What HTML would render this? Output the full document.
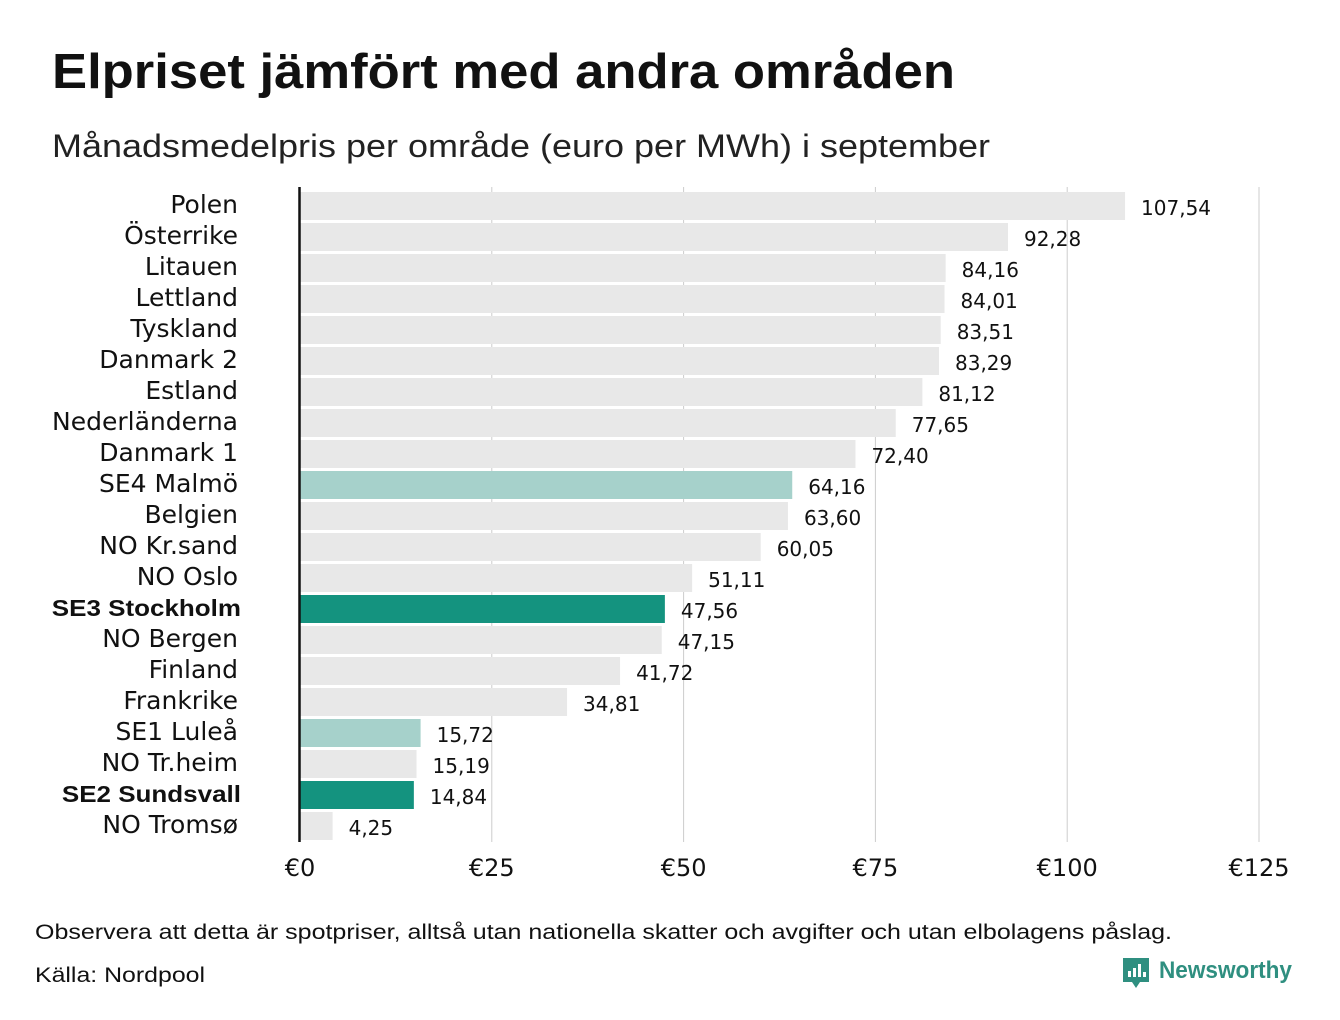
<!DOCTYPE html>
<html><head><meta charset="utf-8"><style>
body{margin:0;background:#fff;font-family:"DejaVu Sans","Liberation Sans",sans-serif;}
#wrap{position:relative;width:1340px;height:1020px;overflow:hidden}
</style></head><body>
<div id="wrap">
<svg id="chart" width="1340" height="1020">
<text x="52" y="88" font-size="49" font-weight="bold" fill="#111" textLength="903" lengthAdjust="spacingAndGlyphs" style="font-family:'Liberation Sans',sans-serif">Elpriset jämfört med andra områden</text>
<text x="52" y="157" font-size="32" fill="#222" textLength="938" lengthAdjust="spacingAndGlyphs" style="font-family:'Liberation Sans',sans-serif">Månadsmedelpris per område (euro per MWh) i september</text>
<g id="grid"></g><g id="bars"></g><g id="labels"></g>
<line x1="299.5" y1="187" x2="299.5" y2="842" stroke="#111" stroke-width="2.5"/>
<text x="35" y="939" font-size="21" fill="#111" textLength="1137" lengthAdjust="spacingAndGlyphs" style="font-family:'Liberation Sans',sans-serif">Observera att detta är spotpriser, alltså utan nationella skatter och avgifter och utan elbolagens påslag.</text>
<text x="35" y="982" font-size="21" fill="#111" textLength="170" lengthAdjust="spacingAndGlyphs" style="font-family:'Liberation Sans',sans-serif">Källa: Nordpool</text>
<g>
<path d="M1123 958 h26 v24 h-9 l-4 6 l-4 -6 h-9 z" fill="#2f8f80"/>
<rect x="1128" y="971" width="3" height="6" fill="#fff"/><rect x="1133" y="968" width="3" height="9" fill="#fff"/><rect x="1138" y="964" width="3" height="13" fill="#fff"/><rect x="1143" y="972" width="3" height="5" fill="#fff"/>
<text x="1159" y="978" font-size="24" font-weight="bold" fill="#2f8f80" textLength="133" lengthAdjust="spacingAndGlyphs" style="font-family:'Liberation Sans',sans-serif">Newsworthy</text>
</g>
</svg>
</div>
<script>
const categories=["Polen","Österrike","Litauen","Lettland","Tyskland","Danmark  2","Estland","Nederländerna","Danmark  1","SE4  Malmö","Belgien","NO Kr.sand","NO Oslo","SE3 Stockholm","NO Bergen","Finland","Frankrike","SE1  Luleå","NO Tr.heim","SE2 Sundsvall","NO Tromsø"];
const values=[107.54,92.28,84.16,84.01,83.51,83.29,81.12,77.65,72.40,64.16,63.60,60.05,51.11,47.56,47.15,41.72,34.81,15.72,15.19,14.84,4.25];
const highlight=["","","","","","","","","","light","","","","dark","","","","light","","dark",""];
const ticks=[0,25,50,75,100,125];
const ns="http://www.w3.org/2000/svg";
const x=v=>300+v*7.672;
const y=i=>192+i*31;
const colors={"":"#e8e8e8",light:"#a6d1cb",dark:"#14937f"};
function mk(t,a,p){const e=document.createElementNS(ns,t);for(const k in a)e.setAttribute(k,a[k]);document.getElementById(p).appendChild(e);return e;}
ticks.forEach(t=>{
  if(t>0){const l=mk("line",{x1:x(t),x2:x(t),y1:187,y2:842,stroke:"#ccc","stroke-width":1},"grid");
  
  }
  const tx=mk("text",{x:x(t),y:876,"font-size":24,"text-anchor":"middle",fill:"#111"},"grid");
  tx.textContent="€"+t;
  
  
});
categories.forEach((c,i)=>{
  const r=mk("rect",{x:300,y:y(i),width:x(values[i])-300,height:28,fill:colors[highlight[i]]},"bars");
  
  
  const bold=highlight[i]==="dark";
  const lb=mk("text",{x:bold?241:238,y:y(i)+21,"font-size":bold?23:25,"font-weight":bold?"bold":"normal","text-anchor":"end",fill:"#111","xml:space":"preserve"},"labels");
  if(bold) lb.setAttribute("style","font-family:'Liberation Sans',sans-serif");
  lb.textContent=c;
  
  
  if(bold){const w=lb.getComputedTextLength();lb.setAttribute("textLength",w*1.13);lb.setAttribute("lengthAdjust","spacingAndGlyphs");}
  const vl=mk("text",{x:x(values[i])+16,y:y(i)+23,"font-size":20,fill:"#111"},"labels");
  vl.textContent=values[i].toFixed(2).replace(".",",");
  
  
});
</script>
</body></html>
